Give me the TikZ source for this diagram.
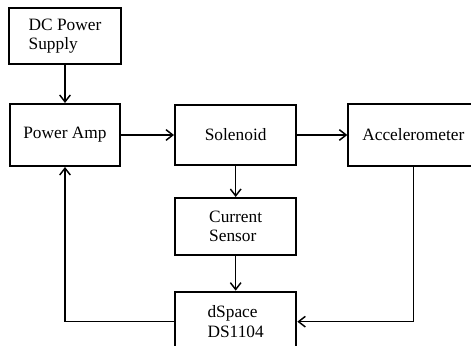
\documentclass[tikz,border=0pt]{standalone}
\usepackage{fontspec}
\setmainfont{Liberation Serif}
\usetikzlibrary{arrows.meta,positioning}
\tikzset{
  >={Straight Barb[length=1.8mm, width=2.8mm]},
  blk/.style={draw, line width=1.5pt, align=left, minimum width=91pt, minimum height=45pt, inner sep=2pt},
  link/.style={line width=1.1pt, ->},
}

\begin{document}
\begin{tikzpicture}[node distance=26pt and 39pt, font=\fontsize{13}{14.5}\selectfont]
  \useasboundingbox (0,0) rectangle (353.25pt,-259.5pt);

  \node[blk, minimum width=82.5pt, minimum height=46.5pt] (pamp) at (48.75pt,-101.25pt) {Power Amp};
  \node[blk, minimum width=84pt, minimum height=42pt, above=28.5pt of pamp] (dc) {DC Power\\Supply};
  \node[blk, right=39.75pt of pamp] (sol) {Solenoid};
  \node[blk, minimum width=97.5pt, minimum height=46.5pt, right=37.5pt of sol] (acc) {Accelerometer};
  \node[blk, minimum height=42.75pt, below=23.25pt of sol] (cur) {Current\\Sensor};
  \node[blk, below=of cur] (dsp) {dSpace\\DS1104};

  \draw[link] (dc) -- (pamp);
  \draw[link] (pamp) -- (sol);
  \draw[link] (sol) -- (acc);
  \draw[link] (sol) -- (cur);
  \draw[link] (cur) -- (dsp);
  \draw[link] (acc.south) |- (dsp.east);
  \draw[link] (dsp.west) -| (pamp.south);
\end{tikzpicture}
\end{document}
